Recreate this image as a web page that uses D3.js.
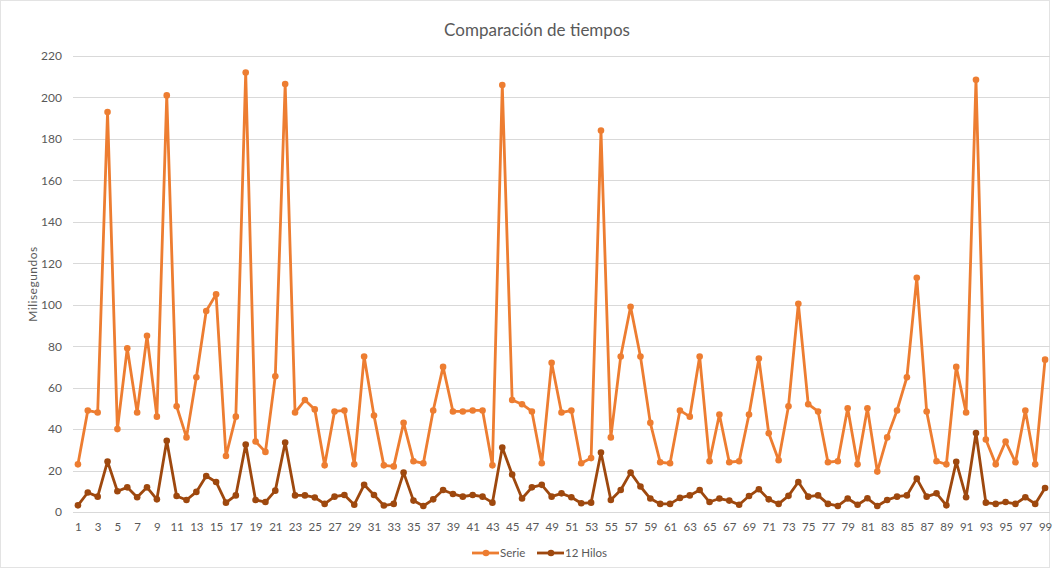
<!DOCTYPE html>
<html>
<head>
<meta charset="utf-8">
<script src="https://cdn.jsdelivr.net/npm/d3@7"></script>
<style>
  body { margin: 0; background: #fff; }
  text { font-family: Lato, "Open Sans", sans-serif; fill: #595959; }
</style>
</head>
<body>
<div id="visualization"></div>
<script>
// data
const categories = d3.range(1, 100)

const serie = [23, 49, 48, 193, 40, 79, 48, 85, 46, 201,
  51, 36, 65, 97, 105, 27, 46, 212, 34, 29,
  65.5, 206.5, 48, 54, 49.5, 22.5, 48.5, 49, 23, 75,
  46.5, 22.5, 22, 43, 24.5, 23.5, 49, 70, 48.5, 48.5,
  49, 49, 22.5, 206, 54, 52, 48.5, 23.5, 72, 48,
  49, 23.5, 26, 184, 36, 75, 99, 75, 43, 24,
  23.5, 49, 46, 75, 24.5, 47, 24, 24.5, 47, 74,
  38, 25, 51, 100.5, 52, 48.5, 24, 24.5, 50, 23,
  50, 19.5, 36, 49, 65, 113, 48.5, 24.5, 23, 70,
  48, 208.5, 35, 23, 34, 24, 49, 23, 73.5]

const hilos = [3.2, 9.4, 7.4, 24.4, 10, 11.9, 7.1, 11.9, 6.1, 34.4,
  7.7, 5.8, 9.7, 17.4, 14.5, 4.5, 8, 32.6, 5.8, 4.8,
  10.3, 33.5, 8, 8, 7, 3.9, 7.4, 8.2, 3.5, 13.1,
  8.2, 3.1, 3.9, 19, 5.5, 2.9, 6.1, 10.6, 8.7, 7.4,
  8.2, 7.4, 4.5, 31.1, 18.1, 6.5, 11.9, 13.1, 7.4, 9,
  7.1, 4.2, 4.5, 28.7, 5.8, 10.6, 19, 12.3, 6.5, 3.9,
  3.9, 6.8, 8, 10.6, 4.8, 6.5, 5.5, 3.5, 7.7, 11,
  6.1, 3.9, 7.8, 14.5, 7.4, 8, 3.9, 2.9, 6.5, 3.5,
  6.6, 2.9, 5.8, 7.4, 8, 16.1, 7.4, 9, 3.2, 24.2,
  7.1, 38.1, 4.5, 3.9, 4.8, 3.9, 7.1, 3.9, 11.6]

const yTicks = d3.range(0, 221, 20)

const seriesList = [
  { name: 'Serie', values: serie, color: '#ED7D31' },
  { name: '12 Hilos', values: hilos, color: '#9E480E' }
]

let w = 1055,
  h = 571,
  margin = { left: 73, right: 5, top: 56, bottom: 59 }

let svg = d3.select('#visualization')
  .append('svg')
  .attr('width', w)
  .attr('height', h)

// frame
svg.append('rect')
  .attr('x', 0.5).attr('y', 0.5)
  .attr('width', w - 6).attr('height', h - 4)
  .attr('fill', 'none')
  .attr('stroke', '#e3e3e3')

let x = d3.scalePoint()
  .domain(categories)
  .range([margin.left, w - margin.right])
  .padding(0.5)

let y = d3.scaleLinear()
  .domain([0, 220])
  .range([h - margin.bottom, margin.top])

// gridlines
svg.append('g')
  .selectAll('line')
  .data(yTicks)
  .enter()
  .append('line')
  .attr('x1', margin.left)
  .attr('x2', w - margin.right)
  .attr('y1', d => Math.round(y(d)) + 0.5)
  .attr('y2', d => Math.round(y(d)) + 0.5)
  .attr('stroke', '#d9d9d9')
  .attr('stroke-width', 1)

// y axis labels
let yAxis = svg.append('g')
  .attr('transform', `translate(${margin.left - 11},0)`)
  .call(d3.axisLeft(y).tickValues(yTicks).tickSize(0).tickPadding(0))
yAxis.select('.domain').remove()
yAxis.selectAll('text')
  .style('font-size', '12px')
  .attr('fill', '#595959')

// x axis labels, odd categories only
let xAxis = svg.append('g')
  .attr('transform', `translate(0,${h - margin.bottom + 9})`)
  .call(d3.axisBottom(x).tickValues(categories.filter(d => d % 2 === 1)).tickSize(0).tickPadding(2))
xAxis.select('.domain').remove()
xAxis.selectAll('text')
  .style('font-size', '11.5px')
  .attr('fill', '#595959')

// y title
svg.append('text')
  .attr('transform', `translate(37,${(y(0) + y(220)) / 2}) rotate(-90)`)
  .attr('text-anchor', 'middle')
  .style('font-size', '12px')
  .style('letter-spacing', '0.5px')
  .text('Milisegundos')

// title
svg.append('text')
  .attr('x', 537)
  .attr('y', 36)
  .attr('text-anchor', 'middle')
  .style('font-size', '17px')
  .text('Comparación de tiempos')

let line = d3.line()
  .x((d, i) => x(categories[i]))
  .y(d => y(d))

seriesList.forEach(s => {
  let g = svg.append('g')
  g.append('path')
    .datum(s.values)
    .attr('d', line)
    .attr('fill', 'none')
    .attr('stroke', s.color)
    .attr('stroke-width', 2.8)
    .attr('stroke-linejoin', 'round')
  g.selectAll('circle')
    .data(s.values)
    .enter()
    .append('circle')
    .attr('cx', (d, i) => x(categories[i]))
    .attr('cy', d => y(d))
    .attr('r', 3.3)
    .attr('fill', s.color)
})

// legend
let legend = svg.append('g')
  .attr('transform', 'translate(472,553)')

let legendX = [0, 65]
seriesList.forEach((s, i) => {
  let item = legend.append('g')
    .attr('transform', `translate(${legendX[i]},0)`)
  item.append('line')
    .attr('x1', 0).attr('x2', 27)
    .attr('stroke', s.color)
    .attr('stroke-width', 2.8)
  item.append('circle')
    .attr('cx', 14).attr('r', 3.3)
    .attr('fill', s.color)
  item.append('text')
    .attr('x', 28)
    .attr('dy', '0.35em')
    .style('font-size', '11.5px')
    .text(s.name)
})
</script>
</body>
</html>
